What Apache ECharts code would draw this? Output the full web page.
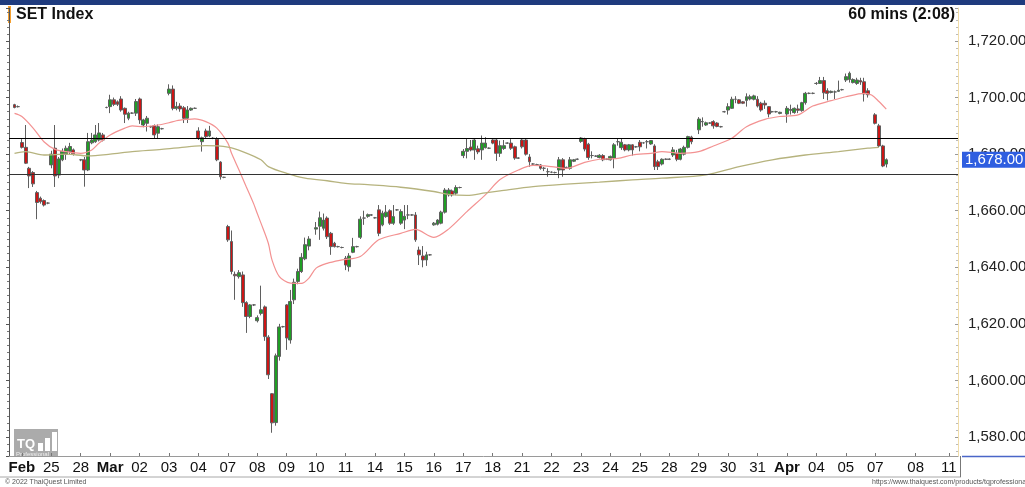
<!DOCTYPE html>
<html>
<head>
<meta charset="utf-8">
<script src="https://cdn.jsdelivr.net/npm/echarts@6/dist/echarts.min.js"></script>
<style>
  html, body { margin: 0; padding: 0; background: #fff; }
  #chart { width: 1025px; height: 487px; }
</style>
</head>
<body>
<div id="chart"></div>
<script>
// 60-min bars, each [open, close, low, high]; null = empty slot
const feb23 = [null, [1697.5, 1696.5, 1696.2, 1697.8], [1696.8, 1696.8, 1696.5, 1697.2]];
const feb24 = [[1684.1, 1682.4, 1682, 1685.3], [1682.4, 1676.8, 1676.5, 1690.3], [1675, 1672.3, 1668, 1675.5], [1673.5, 1669.5, 1668.4, 1674],
  [1666.4, 1662.9, 1657, 1667], [1664.4, 1663.2, 1662.5, 1665], [1663.6, 1662, 1661.5, 1664], [1662.7, 1662.7, 1662.3, 1663]];
const feb25 = [[1676.2, 1680, 1675, 1681.2], [1682.1, 1672.3, 1668.4, 1690.3], [1672.6, 1678.3, 1671.5, 1679], [1678, 1681, 1677.5, 1682],
  [1680, 1682.1, 1678, 1683], [1681, 1682.7, 1680, 1684], [1681.5, 1680.1, 1679.5, 1682], null];
const feb28 = [[1678, 1678, 1677.5, 1678.3], [1678, 1674.4, 1668.5, 1679], [1674.4, 1684.4, 1674, 1687.5], [1684, 1685, 1683.5, 1687.5],
  [1684.4, 1686.8, 1684, 1690.3], [1685, 1687.5, 1684.5, 1691], [1686.8, 1685, 1684.5, 1687.5], [1696.5, 1696.5, 1696.2, 1696.8]];
const mar01 = [[1696.8, 1699.2, 1694.5, 1701], [1699.2, 1697.6, 1697, 1700], [1698.5, 1697.6, 1697, 1699], [1699.5, 1695.6, 1695, 1700.5],
  [1696.2, 1694.1, 1691, 1696.5], [1692.7, 1694.5, 1692, 1695], [1694.5, 1694.5, 1694.2, 1694.8], [1694.5, 1698.6, 1693.5, 1699.5]];
const mar02 = [[1699.5, 1692.1, 1690.7, 1700], [1690.3, 1692.1, 1689.5, 1692.5], [1690.9, 1692.7, 1688, 1693.5], [1689.7, 1689.7, 1689.3, 1690],
  [1690, 1686.8, 1685.7, 1690.5], [1687.4, 1689.7, 1685.7, 1690.5], [1689, 1689, 1688.7, 1689.3], null];
const mar03 = [[1701.5, 1703, 1700.8, 1704.7], [1703, 1696.2, 1695.5, 1704.3], [1696.2, 1696.8, 1695.5, 1698.5], [1697, 1696, 1695, 1698],
  [1696.4, 1692.7, 1691, 1697], [1692.7, 1695.6, 1691, 1697], [1695.6, 1696.2, 1695.3, 1696.5], [1696.2, 1696.2, 1696, 1696.5]];
const mar04 = [[1688.2, 1685.6, 1685, 1689.5], [1684.4, 1685.8, 1680.9, 1686.2], [1688.2, 1686.2, 1685.5, 1689], [1686.4, 1688.2, 1686, 1690],
  [1685.6, 1685.6, 1685.3, 1686], [1685.3, 1678, 1677.5, 1686], [1677.2, 1672, 1671, 1677.5], [1671.8, 1671.8, 1671.5, 1672]];
const mar07 = [[1654.4, 1649.7, 1649, 1655], [1649.1, 1638.5, 1637.5, 1653], [1637.5, 1637, 1628.5, 1638.5], [1636.7, 1638.1, 1636, 1639],
  [1637.3, 1627.5, 1626, 1638.5], [1627.5, 1622.6, 1616.8, 1628], [1622.6, 1626.7, 1622, 1627], [1626.7, 1626.7, 1626.3, 1627]];
const mar08 = [[1621.1, 1622.2, 1620.5, 1623], [1623.7, 1625, 1623, 1633.5], [1626, 1615.5, 1614, 1626.5], [1615.3, 1602, 1600.5, 1616],
  [1595.3, 1585, 1581.5, 1595.5], [1585.1, 1608.7, 1584, 1609.5], [1608.5, 1618.9, 1607, 1620], [1619, 1619, 1618.7, 1619.3]];
const mar09 = [[1626.7, 1615, 1610.8, 1627], [1614.3, 1627.9, 1613, 1632], [1628.5, 1634.7, 1627, 1636], [1635, 1638.5, 1634, 1639.5],
  [1638.5, 1643.5, 1638, 1645], [1643, 1648, 1642.5, 1650.5], [1647.5, 1650, 1646, 1651], null];
const mar10 = [[1653.5, 1654, 1651.5, 1656], [1654.5, 1657.5, 1649.7, 1659.7], [1653.8, 1656.7, 1653, 1659], [1657.4, 1650.8, 1650, 1658],
  [1652, 1647.3, 1644.4, 1652.5], [1648.5, 1647.3, 1647, 1649], [1647.3, 1647.3, 1647, 1647.6], [1647, 1647, 1646.7, 1647.3]];
const mar11 = [[1643.2, 1640.8, 1639, 1644], [1640.2, 1644, 1638.5, 1645], [1645.3, 1647.3, 1645, 1650.4], [1647.3, 1647.3, 1647, 1647.6],
  [1650.6, 1657, 1650, 1658], [1657.4, 1657.4, 1655, 1660], [1658, 1658.6, 1657.5, 1659], [1658.5, 1658.5, 1658.2, 1658.8]];
const mar14 = [[1657.5, 1657.5, 1657.2, 1657.8], [1660.3, 1652, 1651, 1662], [1655, 1659.1, 1654.5, 1660], [1657.9, 1659.5, 1657.5, 1662],
  [1660, 1655.6, 1655, 1660.5], [1655.6, 1657.9, 1655, 1662], [1660.3, 1660.3, 1660, 1660.6], [1655.6, 1659.7, 1655, 1660.5]];
const mar15 = [[1656.7, 1658, 1653.5, 1662], [1658.5, 1658.5, 1657, 1662], [1658.5, 1658.5, 1658.2, 1658.8], [1658.5, 1649.7, 1649, 1659.5],
  [1646.1, 1644.4, 1640.8, 1647.3], [1644, 1642.6, 1640, 1647.5], [1642.6, 1644.4, 1640.5, 1645.5], [1644.4, 1644.4, 1644.1, 1644.7]];
const mar16 = [[1655, 1655.6, 1654.7, 1656], [1655.2, 1656.7, 1654.8, 1657], [1655.6, 1659.5, 1655.2, 1660], [1659.5, 1667.3, 1659, 1668],
  [1665.6, 1667.3, 1665, 1668], [1667, 1665.6, 1665, 1667.5], [1666.2, 1668.2, 1665.5, 1669], [1668.2, 1668.2, 1667.9, 1668.5]];
const mar17 = [[1679.5, 1681, 1678.6, 1681.8], [1681, 1682, 1678.5, 1685.6], [1682.5, 1681.5, 1681, 1685], [1681.5, 1685, 1678, 1685.6],
  [1681.9, 1680.8, 1680, 1683], [1681.5, 1683.9, 1678, 1686.6], [1682.3, 1683.9, 1682, 1686], [1682.1, 1682.1, 1681.8, 1682.4]];
const mar18 = [[1685, 1683.9, 1683.5, 1685.3], [1685, 1680.3, 1677.6, 1685.5], [1680.3, 1683, 1679, 1684.8], [1682, 1683, 1681.5, 1685],
  [1683.9, 1683.9, 1683.6, 1684.2], [1683.9, 1682.1, 1681.5, 1685.3], [1682.6, 1678.6, 1678, 1683], [1678.6, 1678.6, 1678.3, 1678.9]];
const mar21 = [[1685, 1682.6, 1682, 1685.5], [1685, 1680, 1679.5, 1685.5], [1679, 1677.3, 1675.5, 1680], [1676.5, 1676.5, 1676.2, 1676.8],
  [1676.3, 1676.3, 1676, 1676.6], [1676.2, 1675, 1674.5, 1676.5], [1675, 1675, 1674, 1675.5], [1673.8, 1673.8, 1672, 1675]];
const mar22 = [[1673.6, 1673.6, 1673.3, 1673.9], [1673.5, 1673.5, 1673.2, 1673.8], [1674.4, 1678, 1671.5, 1679], [1678, 1674.4, 1672, 1678.6],
  [1675.3, 1675.3, 1675, 1675.6], [1675, 1678, 1674.5, 1679], [1677.5, 1678, 1677.2, 1678.3], [1678.2, 1678.2, 1677.9, 1678.5]];
const mar23 = [[1684.5, 1685.7, 1684, 1686], [1685.4, 1681.8, 1681, 1685.8], [1683.5, 1678.8, 1678, 1684], [1679.5, 1679.5, 1678.5, 1681],
  [1679.3, 1679.3, 1679, 1679.6], [1678.8, 1679.6, 1678.5, 1680], [1679.5, 1678, 1677.5, 1680], [1678.2, 1678.2, 1677.9, 1678.5]];
const mar24 = [[1678, 1679.2, 1677.7, 1679.5], [1678.6, 1683.3, 1675, 1683.9], [1684.4, 1684.4, 1683, 1685.5], [1682.3, 1684.2, 1681.5, 1685.5],
  [1683.3, 1681.5, 1681, 1683.6], [1681.5, 1683.3, 1681, 1683.6], [1683.3, 1681.5, 1679.5, 1683.5], [1682.6, 1682.6, 1682.3, 1682.9]];
const mar25 = [[1684.2, 1682.6, 1681, 1685], [1684, 1684, 1683.7, 1684.3], [1684.4, 1684.4, 1682, 1685], [1683.6, 1684.8, 1683.3, 1685],
  [1682.9, 1675.6, 1674.4, 1683.5], [1677.3, 1675.6, 1674.4, 1678], [1676.5, 1678.2, 1676, 1678.5], [1678.2, 1678.2, 1677.9, 1678.5]];
const mar28 = [[1678.2, 1678.2, 1677.9, 1678.5], [1679.7, 1681.5, 1679, 1682.5], [1680.3, 1678.2, 1677.5, 1681.5], [1678.2, 1681.8, 1677.8, 1682.2],
  [1680, 1682.4, 1679.5, 1683], [1682.4, 1686.2, 1682, 1686.5], [1686, 1684.4, 1683.5, 1686.5], null];
const mar29 = [[1688.6, 1692.4, 1687.1, 1693.1], [1691.5, 1691.5, 1689.7, 1693], [1690.3, 1691.1, 1690, 1691.5], [1691, 1691, 1690.7, 1691.3],
  [1691.5, 1690, 1689, 1692], [1691, 1689.8, 1689.5, 1691.3], [1689.7, 1689.7, 1689.4, 1690], [1695, 1695, 1694.7, 1695.3]];
const mar30 = [[1695.6, 1696.8, 1694, 1698], [1696.2, 1699.4, 1696, 1700.3], [1699.4, 1699.4, 1698, 1700.5], [1699.2, 1698, 1697.7, 1699.5],
  [1698.5, 1698, 1697.7, 1698.8], [1699, 1700.3, 1696.8, 1701.5], [1699.5, 1700.3, 1699, 1701], [1699.4, 1700.6, 1699, 1701]];
const mar31 = [[1699.4, 1697, 1696.5, 1700.5], [1698, 1695.6, 1695, 1698.5], [1698, 1697.4, 1696, 1699], [1696.8, 1694.2, 1693, 1697],
  [1695, 1695, 1694.7, 1695.3], [1695, 1695, 1694.7, 1695.3], [1694.4, 1694.8, 1694.1, 1695], null];
const apr01 = [[1694.2, 1696.2, 1691.1, 1697], [1695.5, 1695.8, 1694, 1697.5], [1694.7, 1696.2, 1694.3, 1696.5], [1696, 1695.5, 1694.5, 1697.5],
  [1695.4, 1698.2, 1695, 1698.5], [1698.2, 1701.5, 1697.5, 1702], [1701.5, 1701.5, 1701.2, 1701.8], [1701.5, 1701.5, 1701.2, 1701.8]];
const apr04 = [[1705, 1705, 1704.5, 1705.5], [1705, 1706, 1704.8, 1707.3], [1706, 1701.7, 1699.5, 1707.3], [1702.4, 1701.5, 1699, 1703.3],
  [1701.8, 1702.2, 1701.5, 1702.5], [1702, 1702, 1699.5, 1702.5], [1702.2, 1702.6, 1702, 1706], [1702.8, 1702.8, 1702.5, 1703.1]];
const apr05 = [[1706.2, 1707.4, 1705.5, 1708.5], [1706.4, 1708.6, 1705.3, 1709.2], [1705.3, 1706.4, 1705, 1706.8], [1705, 1706.2, 1704.5, 1707],
  [1706, 1705.5, 1704.5, 1707], [1705.6, 1701.3, 1698.6, 1707], [1702.4, 1701, 1700, 1703.3], null];
const apr07 = [[1693.9, 1690.9, 1690.5, 1694.5], [1690, 1682.9, 1682.4, 1690.7], [1682.9, 1675.8, 1675.4, 1683.3], [1676.5, 1678, 1675.3, 1678.5]];

const days = [feb24, feb25, feb28, mar01, mar02, mar03, mar04, mar07, mar08, mar09, mar10, mar11, mar14, mar15, mar16,
  mar17, mar18, mar21, mar22, mar23, mar24, mar25, mar28, mar29, mar30, mar31, apr01, apr04, apr05, apr07];
const dayLabels = ['Feb', '25', '28', 'Mar', '02', '03', '04', '07', '08', '09', '10', '11', '14', '15', '16',
  '17', '18', '21', '22', '23', '24', '25', '28', '29', '30', '31', 'Apr', '04', '05', '07'];
const futureLabels = ['08', '11'];
const futureSlots = [246, 255];
const months = ['Feb', 'Mar', 'Apr'];

// moving averages: [bar slot, value]
const maFast = [[1, 1694.4], [3, 1693.3], [6, 1689.3], [9, 1684.4], [12, 1681.7], [15, 1680.9], [19, 1680.3], [22, 1681.5],
  [24, 1683.9], [27, 1686.8], [31, 1689.2], [33, 1690], [36, 1689.7], [40, 1690.3], [43, 1691.1], [45, 1691.8], [48, 1692.3],
  [50, 1692.5], [53, 1691.5], [56, 1689.2], [59, 1683.9], [60, 1680.3], [62, 1674.5], [64, 1668.5], [66, 1662.5], [67, 1659],
  [68, 1655.6], [70, 1648.5], [71, 1642.6], [73, 1636.7], [76, 1634.4], [79, 1634.3], [81, 1636.1], [83, 1639.7], [86, 1641.4],
  [90, 1642.6], [95, 1643.8], [100, 1649.7], [106, 1652], [110, 1653.4], [115, 1650.6], [119, 1653.5], [124, 1659.7],
  [129, 1665.6], [133, 1671], [138, 1674.4], [142, 1676], [147, 1675.6], [151, 1675], [156, 1677.1], [160, 1678.2],
  [165, 1678.5], [169, 1679.7], [174, 1680.3], [177, 1680.9], [182, 1680.3], [187, 1680.9], [191, 1682.9], [196, 1685.6],
  [200, 1689.7], [205, 1692.3], [209, 1693.3], [214, 1693.9], [218, 1697], [223, 1698.9], [227, 1700.3], [232, 1701.5],
  [234, 1700.9], [236, 1698.6], [238, 1695.9]];
const maSlow = [[1, 1680.3], [4, 1680.9], [9, 1679.7], [15, 1680], [21, 1679.4], [27, 1680], [33, 1680.9], [41, 1681.7],
  [48, 1682.6], [53, 1683], [59, 1682.5], [63, 1680.9], [68, 1678], [70, 1675.6], [75, 1673.2], [80, 1671.5], [86, 1670.6],
  [91, 1669.7], [97, 1669.2], [106, 1668.3], [115, 1666.8], [119, 1665.8], [124, 1665.4], [129, 1666.3], [133, 1667],
  [142, 1668.5], [151, 1669.4], [160, 1670.1], [169, 1670.9], [177, 1671.5], [189, 1672.7], [198, 1675.6], [207, 1678],
  [216, 1679.7], [225, 1680.9], [233, 1682.1], [236, 1682.4]];

const levelHigh = 1685.5;
const levelLow = 1673;
const lastPrice = 1678.0;
const totalSlots = 258;

// lay bars into slots, day label on each day's first bar
const bars = [];
const slotLabel = {};
feb23.forEach(b => bars.push(b));
days.forEach((d, i) => {
  slotLabel[bars.length] = dayLabels[i];
  const n = d === apr07 ? d.length : 8;
  for (let k = 0; k < n; k++) bars.push(d[k] || null);
});
futureSlots.forEach((s, i) => { slotLabel[s] = futureLabels[i]; });
while (bars.length < totalSlots) bars.push(null);

const slots = bars.map((b, i) => String(i));
const candleData = bars.map(b => b ? b : ['-', '-', '-', '-']);

const fmt = v => v.toLocaleString('en-US', { minimumFractionDigits: 2, maximumFractionDigits: 2 });
const FONT = '"Liberation Sans", Arial, sans-serif';

const chart = echarts.init(document.getElementById('chart'));
chart.setOption({
  animation: false,
  backgroundColor: '#fff',
  grid: { left: 9, right: 67, top: 8, bottom: 31, outerBoundsMode: 'none', containLabel: false },
  xAxis: {
    type: 'category',
    data: slots,
    boundaryGap: true,
    axisLine: { lineStyle: { color: '#9a9a9a' } },
    axisTick: {
      show: true, inside: true, length: 3, alignWithLabel: true,
      interval: i => slotLabel[i] !== undefined,
      lineStyle: { color: '#777' }
    },
    axisLabel: {
      interval: i => slotLabel[i] !== undefined,
      formatter: (v, i) => {
        const t = slotLabel[i];
        if (t === undefined) return '';
        return months.includes(t) ? '{m|' + t + '}' : t;
      },
      fontFamily: FONT, fontSize: 15, color: '#111', margin: 4,
      rich: { m: { fontFamily: FONT, fontSize: 15, fontWeight: 'bold', color: '#111' } }
    },
    splitLine: { show: false }
  },
  yAxis: [{
    type: 'value',
    position: 'right',
    min: 1573.28,
    max: 1731.67,
    splitNumber: 8,
    axisLine: { show: true, lineStyle: { color: '#f0dca8' } },
    axisTick: { show: true, inside: true, length: 3, lineStyle: { color: '#999' } },
    minorTick: { show: true, splitNumber: 8, length: 2, lineStyle: { color: '#bbb' } },
    axisLabel: {
      formatter: v => (Math.abs(v / 20 - Math.round(v / 20)) < 1e-6 ? fmt(v) : ''),
      fontFamily: FONT, fontSize: 15, color: '#222', margin: 10
    },
    splitLine: { show: false }
  }, {
    type: 'value',
    position: 'left',
    min: 1573.28,
    max: 1731.67,
    splitNumber: 8,
    axisLine: { show: true, lineStyle: { color: '#555' } },
    axisTick: { show: true, length: 3, lineStyle: { color: '#555' } },
    minorTick: { show: true, splitNumber: 8, length: 2, lineStyle: { color: '#777' } },
    axisLabel: { show: false },
    splitLine: { show: false }
  }],
  series: [{
    type: 'candlestick',
    data: candleData,
    barWidth: 3.4,
    itemStyle: {
      color: '#1f9e24', color0: '#cc1515',
      borderColor: '#5f5f5f', borderColor0: '#5f5f5f', borderWidth: 1
    },
    markLine: {
      silent: true,
      symbol: 'none',
      animation: false,
      data: [
        { yAxis: levelHigh, lineStyle: { color: '#000', width: 1.2, type: 'solid' }, label: { show: false } },
        { yAxis: levelLow, lineStyle: { color: '#333', width: 1.2, type: 'solid' }, label: { show: false } },
        {
          yAxis: lastPrice, lineStyle: { color: 'rgba(0,0,0,0)', width: 0 },
          label: {
            show: true, position: 'end', distance: 4, formatter: fmt(lastPrice),
            backgroundColor: '#2f5ee0', color: '#fff', fontFamily: FONT, fontSize: 15,
            padding: [1, 6, 0, 3]
          }
        }
      ]
    }
  }, {
    type: 'line',
    data: maFast,
    smooth: 0.3,
    showSymbol: false,
    lineStyle: { color: '#f39292', width: 1.2 },
    z: 3
  }, {
    type: 'line',
    data: maSlow,
    smooth: 0.3,
    showSymbol: false,
    lineStyle: { color: '#b6b37e', width: 1.3 },
    z: 3
  }],
  graphic: [
    { type: 'rect', left: 0, top: 0, shape: { width: 1025, height: 5 }, style: { fill: '#1f3b7e' } },
    { type: 'rect', left: 8, top: 6, shape: { width: 3, height: 17 }, style: { fill: '#f5a030' } },
    { type: 'text', left: 16, top: 7, style: { text: 'SET Index', font: 'bold 16px ' + FONT, fill: '#111' } },
    { type: 'text', right: 70, top: 7, style: { text: '60 mins (2:08)', font: 'bold 16px ' + FONT, fill: '#111' } },
    { type: 'line', shape: { x1: 0, y1: 477, x2: 961, y2: 477 }, style: { stroke: '#a8a8a8', lineWidth: 1 } },
    { type: 'line', shape: { x1: 960.5, y1: 456, x2: 960.5, y2: 477 }, style: { stroke: '#777', lineWidth: 1 } },
    { type: 'line', shape: { x1: 962, y1: 456.5, x2: 1025, y2: 456.5 }, style: { stroke: '#4a66c8', lineWidth: 1.5 } },
    { type: 'text', left: 5, top: 479, style: { text: '\u00a9 2022 ThaiQuest Limited', font: '7px ' + FONT, fill: '#555' } },
    { type: 'text', left: 872, top: 479, style: { text: 'https://www.thaiquest.com/products/tqprofessional', font: '7px ' + FONT, fill: '#555' } },
    {
      type: 'group', left: 14, top: 429,
      children: [
        { type: 'rect', shape: { width: 44, height: 27 }, style: { fill: 'rgba(150,150,150,0.8)' } },
        { type: 'text', x: 3, y: 9, style: { text: 'TQ', font: 'bold 13px ' + FONT, fill: '#fff' } },
        { type: 'rect', shape: { x: 24, y: 14, width: 5, height: 8 }, style: { fill: '#fff' } },
        { type: 'rect', shape: { x: 31, y: 9, width: 5, height: 13 }, style: { fill: '#fff' } },
        { type: 'rect', shape: { x: 38, y: 3, width: 5, height: 19 }, style: { fill: '#fff' } },
        { type: 'text', x: 2, y: 22, style: { text: 'Professional', font: '6px ' + FONT, fill: '#eee' } }
      ]
    }
  ]
});
</script>
</body>
</html>
